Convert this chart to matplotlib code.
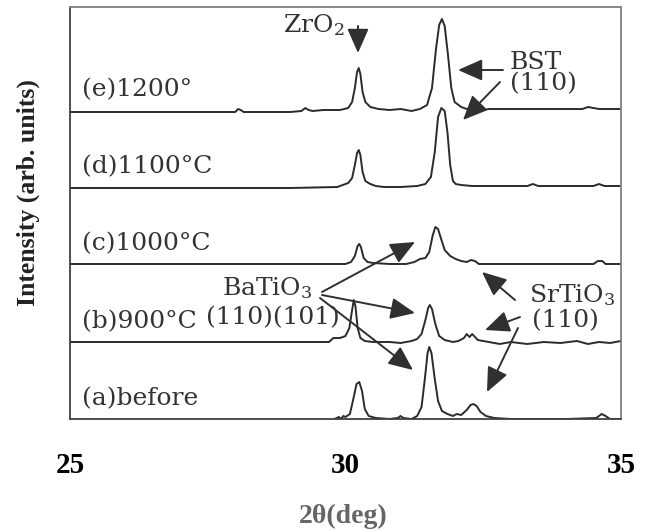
import numpy as np
import matplotlib
matplotlib.use("Agg")
import matplotlib.pyplot as plt

plt.rcParams['mathtext.default'] = 'regular'

# XRD traces: 2theta (deg) and intensity above each baseline (arb.)
tt_a = [29.8, 29.88, 29.92, 29.96, 30.0, 30.08, 30.15, 30.2, 30.25, 30.3, 30.35, 30.42, 30.55, 30.8, 30.95,
        31.0, 31.05, 31.2, 31.3, 31.38, 31.44, 31.49, 31.52, 31.56, 31.62, 31.68, 31.75, 31.85, 31.95, 32.02,
        32.1, 32.2, 32.27, 32.32, 32.38, 32.45, 32.55, 32.7, 33.0, 33.3, 34.0, 34.55, 34.65, 34.72, 34.8, 35.0]
int_a = [0, 2, 0, 3, 2, 5, 22, 35, 37, 28, 10, 3, 1, 0, 1,
         3, 1, 0, 3, 12, 40, 66, 72, 66, 40, 18, 8, 5, 3, 5,
         4, 9, 14, 15, 13, 7, 3, 1, 0, 0, 0, 1, 5, 3, 0, 0]

tt_b = [25.0, 29.7, 29.78, 29.9, 30.0, 30.07, 30.12, 30.15, 30.18, 30.22, 30.27, 30.35, 30.5, 30.8, 31.0,
        31.2, 31.3, 31.38, 31.45, 31.5, 31.53, 31.57, 31.63, 31.7, 31.8, 31.95, 32.05, 32.15, 32.2, 32.25,
        32.3, 32.4, 32.6, 32.8, 33.0, 33.3, 33.6, 33.9, 34.2, 34.4, 34.6, 34.8, 35.0]
int_b = [0, 0, 4, 4, 6, 14, 32, 42, 36, 14, 4, 1, 0, 0, -1,
         1, 3, 8, 22, 34, 37, 33, 18, 6, 2, 0, 1, 4, 8, 5,
         8, 2, 0, -2, 0, -2, 0, -1, 1, -2, 0, -1, 1]

tt_c = [25.0, 29.5, 30.0, 30.1, 30.17, 30.22, 30.25, 30.28, 30.33, 30.4, 30.5, 30.8, 31.1, 31.25, 31.35,
        31.45, 31.52, 31.58, 31.63, 31.68, 31.73, 31.8, 31.9, 32.0, 32.1, 32.2, 32.28, 32.35, 32.42, 32.55,
        33.0, 34.5, 34.58, 34.66, 34.72, 35.0]
int_c = [0, 0, 0, 2, 8, 18, 20, 17, 6, 2, 1, 0, 0, 2, 5,
         6, 12, 28, 37, 35, 26, 14, 8, 5, 3, 2, 4, 3, 0, 0,
         0, 0, 3, 3, 0, 0]

tt_d = [25.0, 29.0, 29.85, 29.95, 30.05, 30.12, 30.17, 30.21, 30.24, 30.27, 30.31, 30.36, 30.45, 30.55, 30.7,
        31.0, 31.3, 31.45, 31.55, 31.62, 31.68, 31.74, 31.8, 31.85, 31.9, 31.95, 32.0, 32.1, 32.3, 32.6,
        33.3, 33.4, 33.5, 34.5, 34.6, 34.7, 35.0]
int_d = [-1, -1, 0, 2, 4, 9, 22, 34, 37, 32, 15, 6, 3, 1, 0,
         0, 1, 3, 10, 35, 70, 79, 76, 55, 22, 6, 3, 2, 1, 1,
         1, 3, 1, 1, 3, 1, 1]

tt_e = [25.0, 27.0, 28.0, 28.05, 28.1, 28.15, 28.2, 29.0, 29.2, 29.27, 29.33, 29.4, 29.6, 29.9, 30.05,
        30.12, 30.17, 30.21, 30.24, 30.27, 30.31, 30.36, 30.45, 30.6, 30.8, 31.0, 31.2, 31.35, 31.48, 31.57,
        31.64, 31.7, 31.75, 31.8, 31.86, 31.92, 31.98, 32.1, 32.2, 32.35, 32.5, 32.6, 33.5, 34.3, 34.4,
        34.5, 34.6, 35.0]
int_e = [-2, -2, -2, 1, 0, -2, -2, -2, -1, 2, 0, -1, 0, 0, 2,
         8, 22, 38, 42, 36, 18, 8, 3, 1, 0, 1, -1, 1, 5, 22,
         60, 85, 91, 84, 55, 22, 8, 3, 1, 2, 0, 1, 1, 1, 3,
         2, 1, 1]

sample_labels = ['(a)before', '(b)900°C', '(c)1000°C', '(d)1100°C', '(e)1200°']
x_ticks = [25, 30, 35]

# vertical stacking of the traces
offsets = [0, 77, 155, 232, 309]

traces = [(tt_a, int_a), (tt_b, int_b), (tt_c, int_c), (tt_d, int_d), (tt_e, int_e)]

fig = plt.figure(figsize=(6.49, 5.31), dpi=100)
ax = fig.add_axes([70 / 649, 112 / 531, 551 / 649, 412 / 531])
ax.set_xlim(25, 35)
ax.set_ylim(0, 412)

lc = '#2b2b2b'
for (tt, inten), off in zip(traces, offsets):
    ax.plot(tt, np.array(inten) + off, color=lc, lw=1.4, solid_joinstyle='round')


def img(xp, yp):
    # picture pixel -> data coords
    return 25 + (xp - 70) / 551 * 10, 419 - yp


serif = 'DejaVu Serif'
tc = '#333333'
fs = 18
for lab, off in zip(sample_labels, offsets):
    ax.text(*img(82, 419 - off - 20), lab, family=serif, fontsize=fs, color=tc,
            ha='left', va='center')

arr = dict(arrowstyle='-|>,head_length=0.75,head_width=0.33', color='#303030', lw=1.4,
           shrinkA=0, shrinkB=0, mutation_scale=20)

# ZrO2
ax.text(*img(344, 25), 'ZrO$_2$', family=serif, fontsize=fs, color=tc, ha='right', va='center')
ax.annotate('', xy=img(358, 53), xytext=img(358, 26), arrowprops=arr)

# BST (110)
ax.text(*img(510, 73), 'BST\n(110)', family=serif, fontsize=fs, color=tc, ha='left', va='center',
        linespacing=0.9)
ax.annotate('', xy=img(458, 70), xytext=img(503, 70), arrowprops=arr)
ax.annotate('', xy=img(463, 120), xytext=img(500, 82), arrowprops=arr)

# BaTiO3 (110)(101)
ax.text(*img(222, 288), 'BaTiO$_3$', family=serif, fontsize=fs, color=tc, ha='left', va='center')
ax.text(*img(206, 318), '(110)(101)', family=serif, fontsize=fs, color=tc, ha='left', va='center')
ax.annotate('', xy=img(415, 242), xytext=img(322, 292), arrowprops=arr)
ax.annotate('', xy=img(415, 313), xytext=img(322, 295), arrowprops=arr)
ax.annotate('', xy=img(413, 370), xytext=img(320, 298), arrowprops=arr)

# SrTiO3 (110)
ax.text(*img(529, 295), 'SrTiO$_3$', family=serif, fontsize=fs, color=tc, ha='left', va='center')
ax.text(*img(532, 321), '(110)', family=serif, fontsize=fs, color=tc, ha='left', va='center')
ax.annotate('', xy=img(482, 272), xytext=img(515, 300), arrowprops=arr)
ax.annotate('', xy=img(485, 330), xytext=img(520, 317), arrowprops=arr)
ax.annotate('', xy=img(487, 392), xytext=img(518, 328), arrowprops=arr)

ax.set_xticks(x_ticks)
ax.set_xticklabels([str(t) for t in x_ticks], family='Liberation Serif', fontweight='bold',
                   fontsize=21)
ax.tick_params(axis='x', length=0, pad=24)
ax.set_yticks([])
for s in ['left', 'bottom']:
    ax.spines[s].set_color('#404040')
    ax.spines[s].set_linewidth(1.3)
for s in ['top', 'right']:
    ax.spines[s].set_color('#808080')
    ax.spines[s].set_linewidth(1.3)

fig.text(343 / 649, 1 - 516 / 531, '2θ(deg)', family='Liberation Serif', fontweight='bold',
         fontsize=20, color='#666666', ha='center', va='center')
fig.text(28 / 649, 1 - 193 / 531, 'Intensity (arb. units)', family='Liberation Serif',
         fontweight='bold', fontsize=18.5, color='#222222', ha='center', va='center', rotation=90)

fig.savefig('out.png', dpi=100)
